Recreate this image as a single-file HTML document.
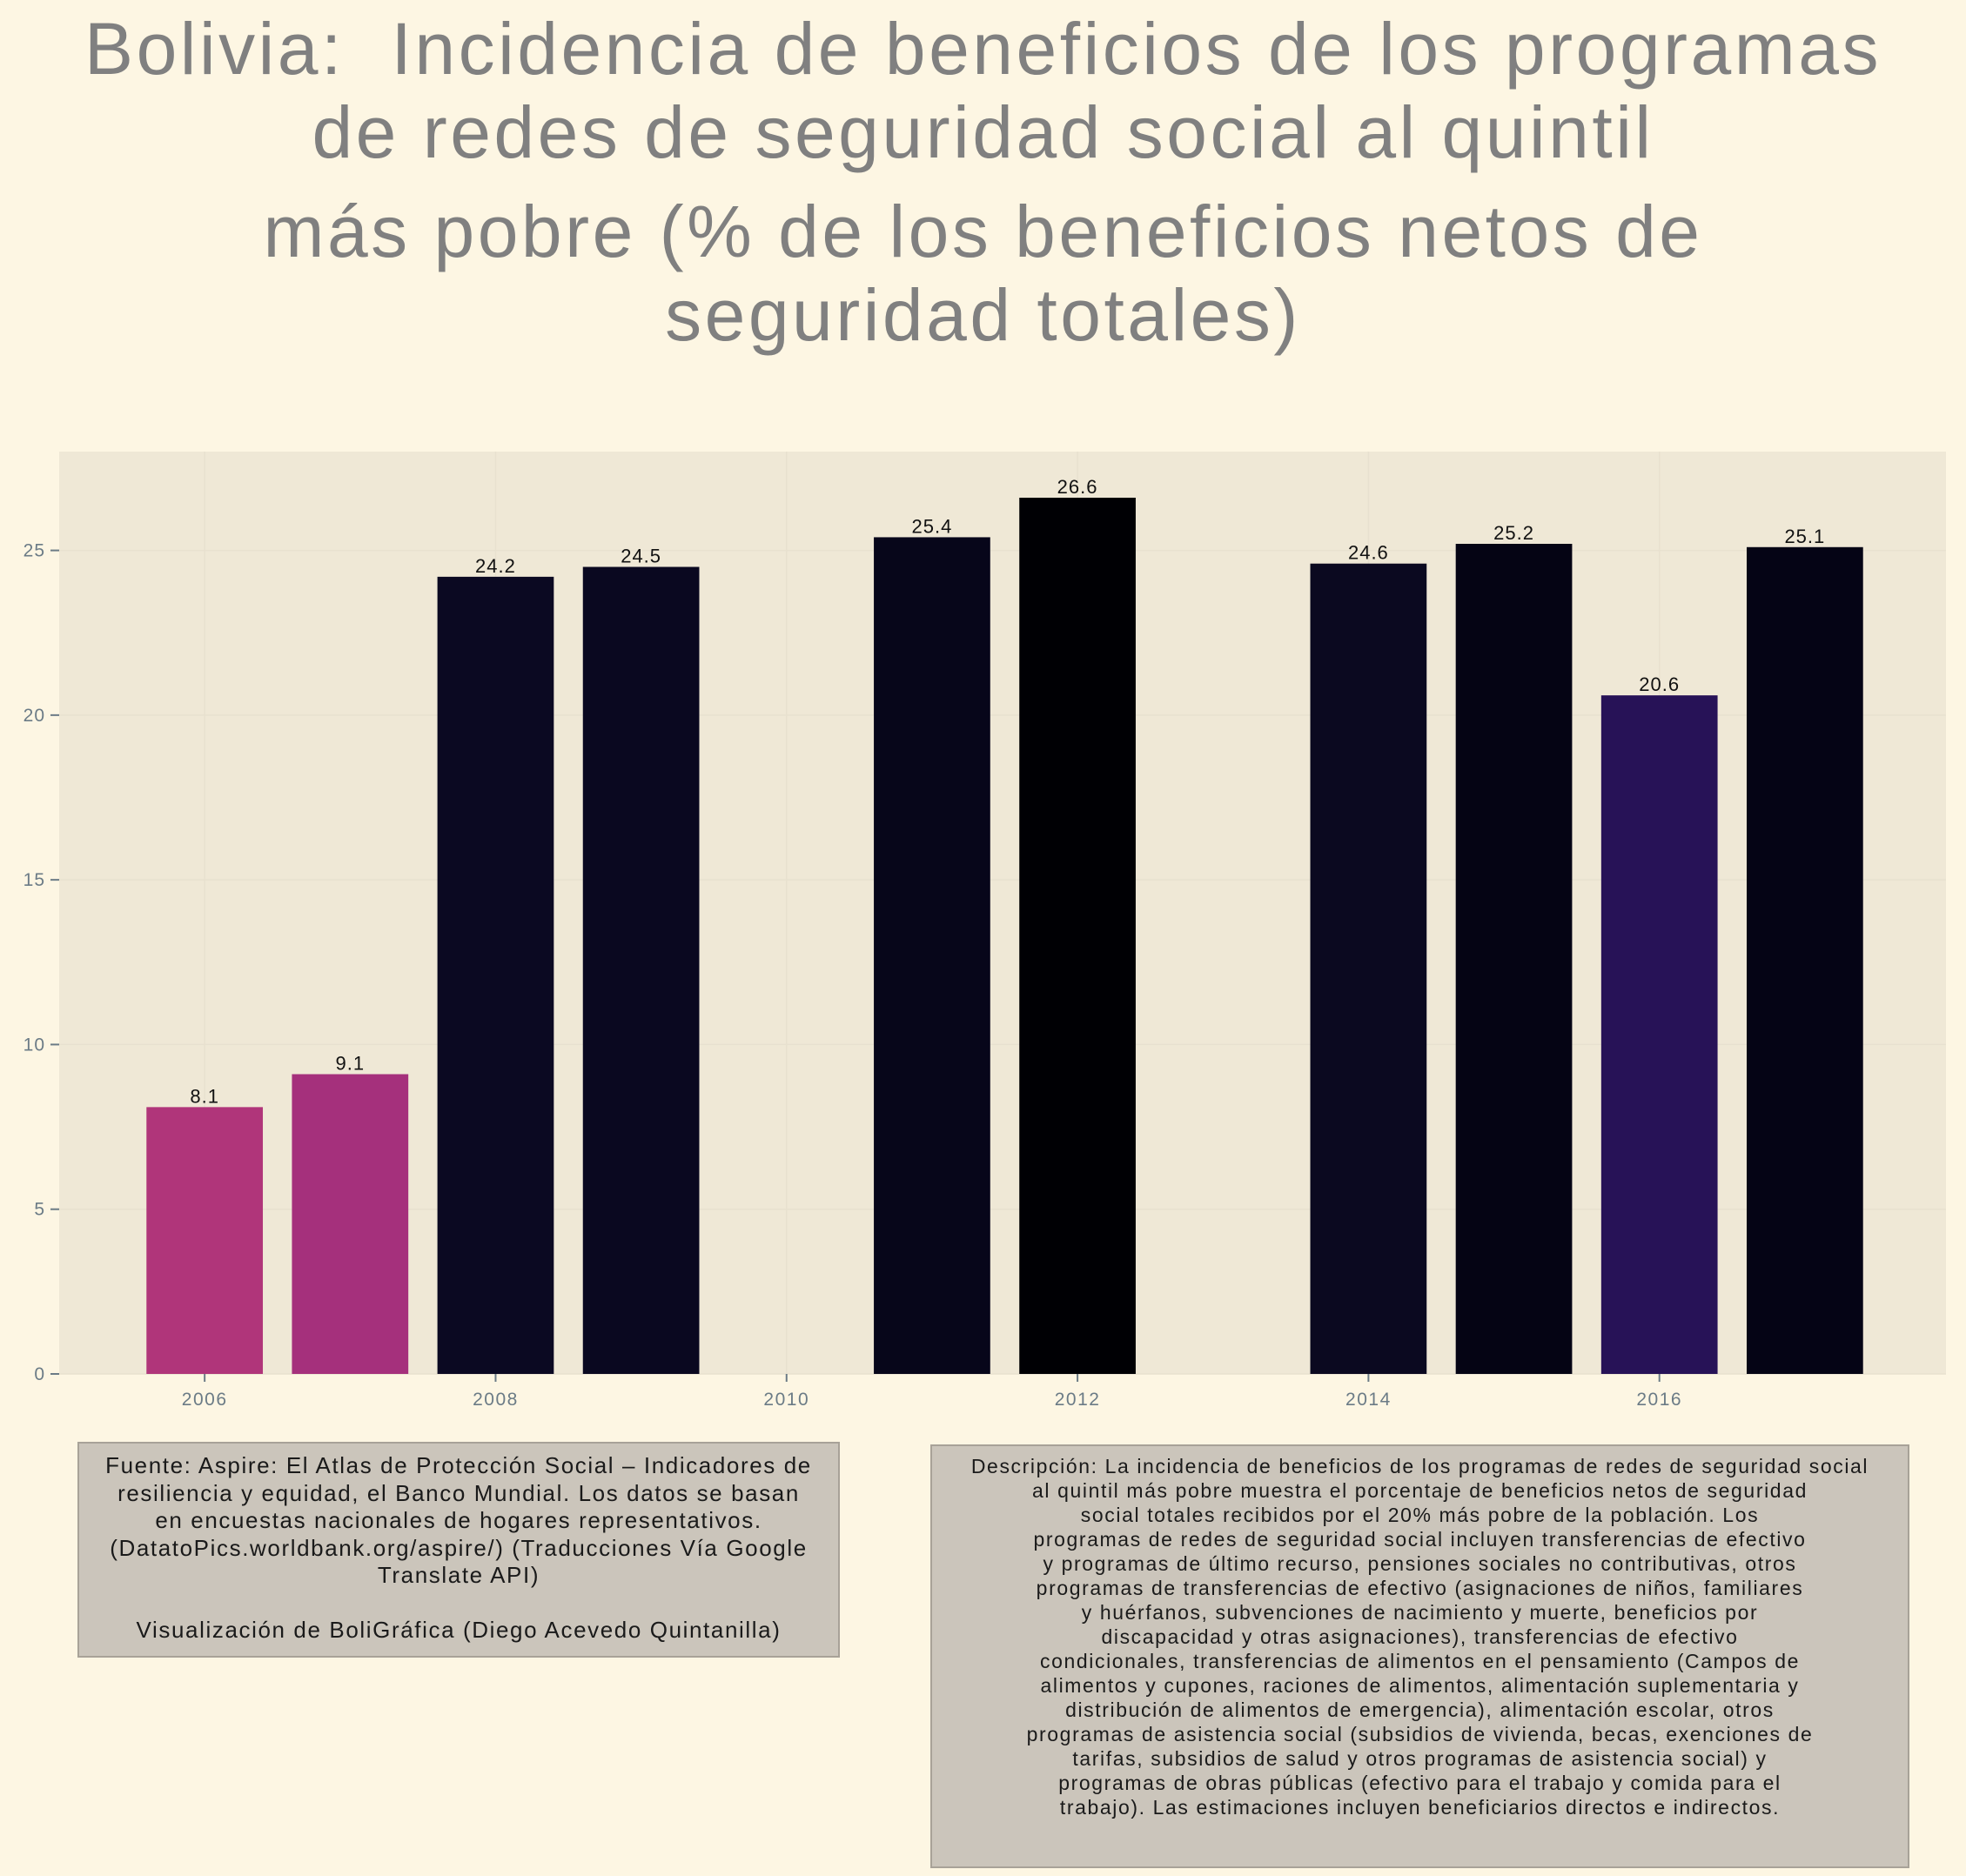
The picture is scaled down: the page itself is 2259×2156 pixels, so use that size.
<!DOCTYPE html>
<html><head><meta charset="utf-8"><style>
body{margin:0;background:#fdf6e3;}
#wrap{position:relative;width:2259px;height:2156px;background:#fdf6e3;font-family:"Liberation Sans",sans-serif;overflow:hidden}
#title{position:absolute;left:0;top:8px;width:2259px;text-align:center;color:#808080;font-size:84px;line-height:96px;letter-spacing:3.5px}
.box{position:absolute;background:#cbc5bb;border:2px solid #a8a298;text-align:center;color:#1a1a1a;box-sizing:border-box;white-space:nowrap}
</style></head><body>
<div id="wrap">
<div id="title">Bolivia:&nbsp; Incidencia de beneficios de los programas<br>de redes de seguridad social al quintil<br><span style="display:inline-block;margin-top:18px">más pobre (% de los beneficios netos de</span><br>seguridad totales)</div>
<svg id="chart" width="2259" height="2156" style="position:absolute;left:0;top:0"></svg>
<div class="box" style="left:89px;top:1657px;width:876px;height:248px;font-size:26px;line-height:31.5px;padding-top:10px;letter-spacing:1.6px">Fuente: Aspire: El Atlas de Protección Social – Indicadores de<br>resiliencia y equidad, el Banco Mundial. Los datos se basan<br>en encuestas nacionales de hogares representativos.<br>(DatatoPics.worldbank.org/aspire/) (Traducciones Vía Google<br>Translate API)<br><br>Visualización de BoliGráfica (Diego Acevedo Quintanilla)</div>
<div class="box" style="left:1069px;top:1660px;width:1125px;height:487px;font-size:23px;line-height:28px;padding-top:9px;letter-spacing:1.6px">Descripción: La incidencia de beneficios de los programas de redes de seguridad social<br>al quintil más pobre muestra el porcentaje de beneficios netos de seguridad<br>social totales recibidos por el 20% más pobre de la población. Los<br>programas de redes de seguridad social incluyen transferencias de efectivo<br>y programas de último recurso, pensiones sociales no contributivas, otros<br>programas de transferencias de efectivo (asignaciones de niños, familiares<br>y huérfanos, subvenciones de nacimiento y muerte, beneficios por<br>discapacidad y otras asignaciones), transferencias de efectivo<br>condicionales, transferencias de alimentos en el pensamiento (Campos de<br>alimentos y cupones, raciones de alimentos, alimentación suplementaria y<br>distribución de alimentos de emergencia), alimentación escolar, otros<br>programas de asistencia social (subsidios de vivienda, becas, exenciones de<br>tarifas, subsidios de salud y otros programas de asistencia social) y<br>programas de obras públicas (efectivo para el trabajo y comida para el<br>trabajo). Las estimaciones incluyen beneficiarios directos e indirectos.</div>
</div>
<script>
const years=[2006,2007,2008,2009,2011,2012,2014,2015,2016,2017];
const values=[8.1,9.1,24.2,24.5,25.4,26.6,24.6,25.2,20.6,25.1];
const colors=["#b0357a","#a5307c","#0b0922","#0a0820","#07061a","#000004","#0b0920","#050414","#271257","#050415"];
const yTicks=[0,5,10,15,20,25];
const xTicks=[2006,2008,2010,2012,2014,2016];
const L=68,R=2236,T=519,B=1579,X0=2005.0,X1=2017.97,Y1=28.0;
const sx=v=>L+(v-X0)/(X1-X0)*(R-L);
const sy=v=>B-v/Y1*(B-T);
const svg=document.getElementById('chart');const NS="http://www.w3.org/2000/svg";
function mk(t,a){const e=document.createElementNS(NS,t);for(const k in a)e.setAttribute(k,a[k]);svg.appendChild(e);return e;}
const bg=mk('rect',{x:L,y:T,width:R-L,height:B-T,fill:'#efe8d6'});


yTicks.forEach(t=>{
 const g=mk('line',{x1:L,x2:R,y1:sy(t),y2:sy(t),stroke:'#e8e1cf','stroke-width':1.5});
 
 
 mk('line',{x1:L-10,x2:L,y1:sy(t),y2:sy(t),stroke:'#6b7b86','stroke-width':2});
 const tx=mk('text',{x:L-16,y:sy(t)+7,'text-anchor':'end','font-size':21,fill:'#6b7b86','letter-spacing':1});tx.textContent=t;
 
 
});
xTicks.forEach(t=>{
 const g=mk('line',{x1:sx(t),x2:sx(t),y1:T,y2:B,stroke:'#e8e1cf','stroke-width':1.5});
 
 
 mk('line',{x1:sx(t),x2:sx(t),y1:B,y2:B+9,stroke:'#6b7b86','stroke-width':2});
 const tx=mk('text',{x:sx(t),y:B+36,'text-anchor':'middle','font-size':21,fill:'#6b7b86','letter-spacing':1.5});tx.textContent=t;
 
 
});
years.forEach((yr,i)=>{
 const w=0.8*(sx(1)-sx(0));
 const r=mk('rect',{x:sx(yr)-w/2,y:sy(values[i]),width:w,height:B-sy(values[i]),fill:colors[i]});
 
 
 const tx=mk('text',{x:sx(yr),y:sy(values[i])-5,'text-anchor':'middle','font-size':22,fill:'#111','letter-spacing':1});tx.textContent=values[i].toFixed(1);
 
 
});
</script>
</body></html>
